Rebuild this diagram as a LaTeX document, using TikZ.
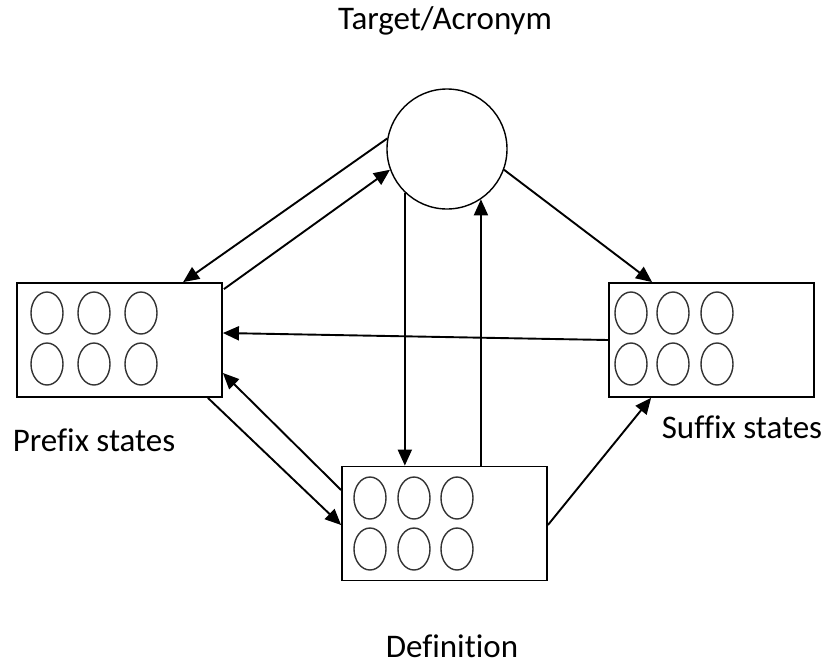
\documentclass[tikz,border=0pt]{standalone}
\usepackage{fontspec}
\setmainfont{Carlito}[Ligatures=NoCommon]
\usetikzlibrary{shapes.geometric,arrows.meta,calc}
\begin{document}
\begin{tikzpicture}[x=1pt,y=-1pt,
  statebox/.style={draw=black,line width=1.8pt,rectangle,minimum width=205pt,minimum height=114pt,inner sep=0pt},
  st/.style={draw=black!80,line width=1.4pt,ellipse,minimum width=32pt,minimum height=42pt,inner sep=0pt},
  arr/.style={draw=black,line width=1.9pt,-{Triangle[length=16pt,width=14pt]}},
  lab/.style={font=\fontsize{33}{38}\selectfont,anchor=base,inner sep=0pt}]
\useasboundingbox (0,0) rectangle (827,665);
\node[circle,draw=black,line width=1.4pt,minimum size=120pt,inner sep=0pt] (c) at (447,149) {};
\node[statebox] (pre) at (119.5,340) {};
\node[statebox] (suf) at (711.5,340) {};
\node[statebox] (def) at (444.5,523.5) {};
% prefix states
\node[st] (p1) at (47,313) {};
\node[st] (p2) at (94,313) {};
\node[st] (p3) at (141,313) {};
\node[st] (p4) at (47,364) {};
\node[st] (p5) at (94,364) {};
\node[st] (p6) at (141,364) {};
% suffix states
\node[st] (s1) at (631,313) {};
\node[st] (s2) at (673,313) {};
\node[st] (s3) at (717,313) {};
\node[st] (s4) at (631,364) {};
\node[st] (s5) at (673,364) {};
\node[st] (s6) at (717,364) {};
% definition states
\node[st] (d1) at (370,498) {};
\node[st] (d2) at (414,498) {};
\node[st] (d3) at (457,498) {};
\node[st] (d4) at (370,549) {};
\node[st] (d5) at (414,549) {};
\node[st] (d6) at (457,549) {};
% labels
\node[lab] (t1) at (445,29) {Target/Acronym};
\node[lab] (t2) at (94,451) {Prefix states};
\node[lab] (t3) at (742,438) {Suffix states};
\node[lab] (t4) at (452,657) {Definition};
% arrows
\draw[arr] (c.170) -- ($(pre.north west)+(167,0)$);
\draw[arr] ($(pre.north east)+(1,7)$) -- (c.200);
\draw[arr] (c.226) -- (c.226 |- def.north);
\draw[arr] (c.304 |- def.north) -- (c.304);
\draw[arr] (c.340) -- ($(suf.north west)+(44,0)$);
\draw[arr] (suf.west) -- ($(pre.east)+(0,-7)$);
\draw[arr] ($(pre.south east)+(-15,0)$) -- ($(def.west)+(0,1.5)$);
\draw[arr] ($(def.west)+(0,-33.5)$) -- ($(pre.east)+(0,33)$);
\draw[arr] ($(def.east)+(0,1.5)$) -- ($(suf.south west)+(43,0)$);
\end{tikzpicture}
\end{document}
